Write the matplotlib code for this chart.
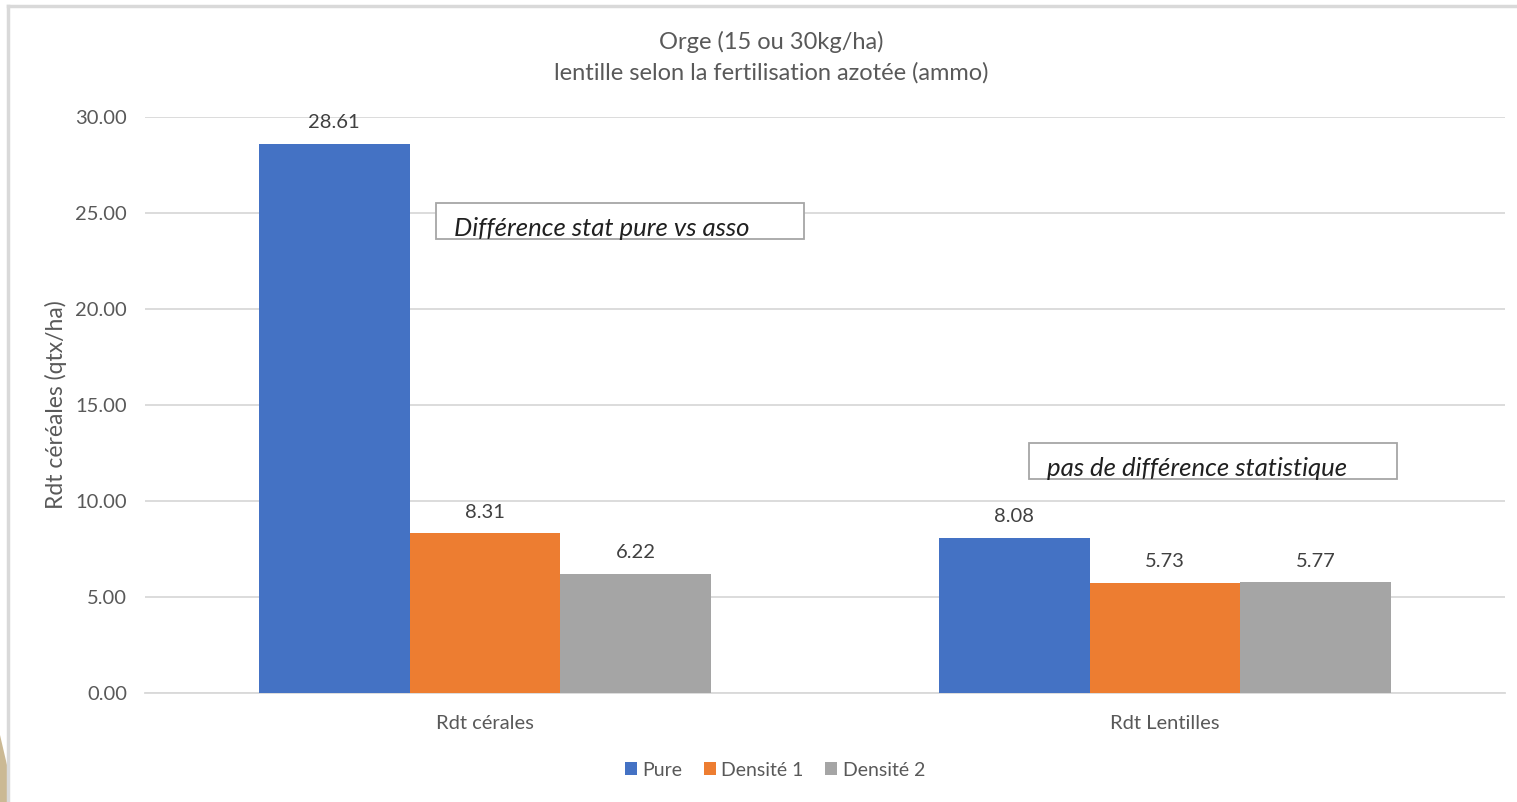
import numpy as np
import matplotlib.pyplot as plt
from matplotlib.patches import Rectangle, Polygon
from matplotlib.lines import Line2D

plt.rcParams['font.family'] = ['Lato', 'DejaVu Sans']

categories = ['Rdt cérales', 'Rdt Lentilles']
series = ['Pure', 'Densité 1', 'Densité 2']
values = {
    'Pure': [28.61, 8.08],
    'Densité 1': [8.31, 5.73],
    'Densité 2': [6.22, 5.77],
}
colors = ['#4472C4', '#ED7D31', '#A5A5A5']
yticks = [0, 5, 10, 15, 20, 25, 30]

grey = '#595959'
fig = plt.figure(figsize=(15.17, 8.02), dpi=100)
W, H = 1517, 802

# frame around the chart area
fig.add_artist(Line2D([8 / W, 8 / W], [0, 1 - 6 / H], transform=fig.transFigure, color='#d9d9d9', lw=2.5))
fig.add_artist(Line2D([8 / W, 1], [1 - 6 / H, 1 - 6 / H], transform=fig.transFigure, color='#d9d9d9', lw=2.5))
fig.add_artist(Polygon([[0, 1 - 735 / H], [7 / W, 1 - 765 / H], [7 / W, 0], [0, 0]],
                       closed=True, transform=fig.transFigure, color='#cbb994', lw=0))

ax = fig.add_axes([145 / W, 1 - 693 / H, 1360 / W, 576 / H])
x = np.arange(len(categories))
width = 0.222
for i, (name, c) in enumerate(zip(series, colors)):
    bars = ax.bar(x + (i - 1) * width, values[name], width, color=c, label=name, zorder=3)
    ax.bar_label(bars, labels=[f'{v:.2f}' for v in values[name]], padding=9,
                 fontsize=14.5, color='#404040')

ax.set_xlim(-0.5, 1.5)
ax.set_ylim(0, 30)
ax.set_yticks(yticks)
ax.set_yticklabels([f'{t:.2f}' for t in yticks])
ax.set_xticks(x)
ax.set_xticklabels(categories)
ax.tick_params(axis='both', length=0, labelsize=14.5, labelcolor=grey)
ax.tick_params(axis='x', pad=16)
ax.tick_params(axis='y', pad=13)
ax.grid(axis='y', color='#d9d9d9', lw=1.3, zorder=0)
for s in ['top', 'right', 'left']:
    ax.spines[s].set_visible(False)
ax.spines['bottom'].set_color('#d9d9d9')
ax.spines['bottom'].set_linewidth(1.3)
ax.set_ylabel('Rdt céréales (qtx/ha)', fontsize=16.5, color=grey)
ax.yaxis.set_label_coords(-78 / 1360, 0.5)

fig.text(771 / W, 1 - 42 / H, 'Orge (15 ou 30kg/ha)',
         ha='center', va='center', fontsize=17, color=grey)
fig.text(771 / W, 1 - 73 / H, 'lentille selon la fertilisation azotée (ammo)',
         ha='center', va='center', fontsize=17, color=grey)

# annotation boxes
for (x0, y0, x1, y1, txt) in [(436, 203, 804, 239, 'Différence stat pure vs asso'),
                              (1029, 443, 1397, 479, 'pas de différence statistique')]:
    fig.add_artist(Rectangle((x0 / W, 1 - y1 / H), (x1 - x0) / W, (y1 - y0) / H,
                             transform=fig.transFigure, facecolor='white',
                             edgecolor='#a6a6a6', lw=1.3, zorder=5))
    fig.text((x0 + 18) / W, 1 - (y1 - 3) / H, txt,
             ha='left', va='baseline', fontsize=18.5, style='italic', color='#202020', zorder=6)

fig.legend(loc='center', bbox_to_anchor=(775 / W, 1 - 770 / H), ncol=3, frameon=False,
           fontsize=14, labelcolor=grey, handlelength=0.6, handleheight=0.6,
           handletextpad=0.3, columnspacing=1.1)

fig.savefig('out.png', dpi=100)
